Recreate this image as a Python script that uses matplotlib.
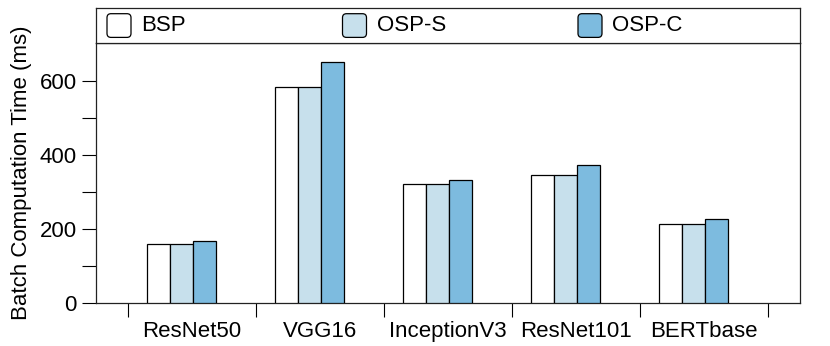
import matplotlib
matplotlib.use("Agg")
import matplotlib.pyplot as plt
import numpy as np
from matplotlib.patches import FancyBboxPatch

plt.rcParams['font.family'] = ['Liberation Sans', 'DejaVu Sans']

# data
models = ["ResNet50", "VGG16", "InceptionV3", "ResNet101", "BERTbase"]
series = ["BSP", "OSP-S", "OSP-C"]
bsp = [160, 582, 320, 346, 214]
osp_s = [160, 582, 320, 346, 214]
osp_c = [168, 650, 332, 371, 225]
colors = ["white", "#c7e0ec", "#7dbbdf"]

W, H = 830, 346
fig = plt.figure(figsize=(W / 100, H / 100), dpi=100)
ax = fig.add_axes([96 / W, 1 - 302.7 / H, 704 / W, 259.7 / H])

x = np.arange(len(models))
w = 0.18
off = -0.08
for i, (vals, c) in enumerate(zip([bsp, osp_s, osp_c], colors)):
    ax.bar(x + off + (i - 1) * w, vals, w, color=c, edgecolor="black",
           linewidth=0.9, zorder=3)

ax.set_xlim(-0.75, 4.75)
ax.set_ylim(0, 702)

# ticks at the group boundaries, labels at the centres
ax.set_xticks(np.arange(len(models) + 1) - 0.5)
ax.set_xticklabels([])
ax.set_xticks(x, minor=True)
ax.set_xticklabels(models, minor=True, fontsize=16)
ax.tick_params(axis="x", which="major", direction="out", length=10, width=0.8)
ax.tick_params(axis="x", which="minor", length=0, pad=13)

ax.set_yticks([0, 200, 400, 600])
ax.set_yticks([100, 300, 500], minor=True)
ax.tick_params(axis="y", which="both", direction="out", length=10,
               width=0.8, labelsize=16, pad=4)
ax.set_ylabel("Batch Computation Time (ms)", fontsize=16, labelpad=5)

for s in ax.spines.values():
    s.set_linewidth(0.9)
    s.set_color("#222222")

# legend box drawn by hand so the three entries sit in equal columns
lax = fig.add_axes([96 / W, 1 - 43 / H, 704 / W, 35 / H])
lax.set_xlim(0, 704)
lax.set_ylim(0, 35)
lax.set_xticks([])
lax.set_yticks([])
for s in lax.spines.values():
    s.set_linewidth(0.9)
    s.set_color("#222222")
for i, (name, c) in enumerate(zip(series, colors)):
    x0 = 11 + i * 235.5
    lax.add_patch(FancyBboxPatch((x0, 5.6), 24, 23.7,
                                 boxstyle="round,pad=0,rounding_size=4",
                                 facecolor=c, edgecolor="black", lw=0.9))
    lax.text(x0 + 34, 17.5, name, fontsize=16, va="center", ha="left")

fig.savefig("out.png", dpi=100)
